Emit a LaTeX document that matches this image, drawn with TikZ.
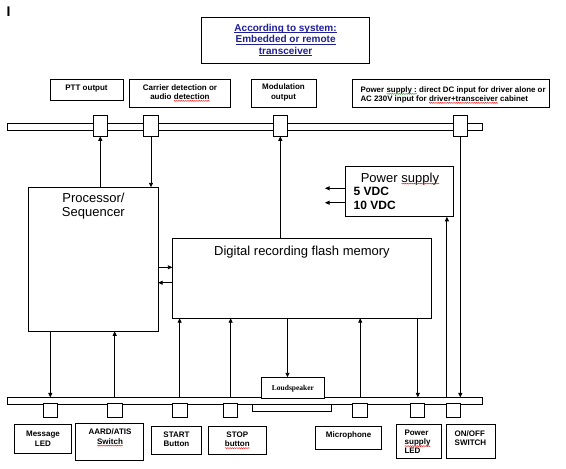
\documentclass[tikz,border=0pt]{standalone}
\usepackage{fontspec}
\setmainfont{Liberation Sans}
\newfontfamily\serifb{Liberation Serif}
\usetikzlibrary{arrows.meta,decorations.pathmorphing,fit}
\definecolor{titleblue}{RGB}{30,30,150}
\definecolor{squiggreen}{RGB}{40,150,40}
\newcommand\sqw[2][red]{\tikz[baseline=(w.base)]{\node[inner sep=0pt,outer sep=0pt] (w) {#2};\draw[#1,line width=0.35pt,decorate,decoration={snake,amplitude=0.5pt,segment length=1.8pt}] ([yshift=-1.6pt]w.base west) -- ([yshift=-1.6pt]w.base east);}}
\newcommand\ulne[1]{\tikz[baseline=(w.base)]{\node[inner sep=0pt,outer sep=0pt] (w) {#1};\draw[titleblue,line width=0.7pt] ([yshift=-1.5pt]w.base west) -- ([yshift=-1.5pt]w.base east);}}
\tikzset{
  bx/.style={draw, line width=0.9pt, fill=white, inner sep=0pt, outer sep=0pt},
  lab/.style={font=\fontsize{8}{9.3}\selectfont\bfseries, align=center, inner sep=0pt},
  labl/.style={font=\fontsize{8}{9}\selectfont\bfseries, align=left, inner sep=0pt},
  big/.style={font=\fontsize{13}{14.7}\selectfont, align=center, inner sep=0pt},
  arr/.style={line width=0.9pt, -{Triangle[length=4.5pt,width=4pt]}},
}
\begin{document}
\begin{tikzpicture}[x=1pt,y=-1pt]
\useasboundingbox (0,0) rectangle (566,469);
\fill[white] (0,0) rectangle (566,469);
\node[font=\fontsize{14}{14}\selectfont\bfseries, anchor=base west, inner sep=0pt] (imark) at (6.5,16.5) {I};
% title
\node[bx, fit={(201.6,17.3) (369.6,63.3)}] (title) {};
\node[font=\fontsize{10}{11.5}\selectfont\bfseries, text=titleblue, align=center, inner sep=0pt, anchor=base] (titletxt) at (285.6,54.3) {\ulne{According to system:}\\\ulne{Embedded or remote}\\\ulne{transceiver}};
% top labels
\node[bx, fit={(50,79.3) (123,100.7)}] (ptt) {};
\node[lab, anchor=base] (ptttxt) at (86.5,90.5) {PTT output};
\node[bx, fit={(129.3,79.3) (230.3,107.3)}] (car) {};
\node[lab, anchor=base] (cartxt) at (180,99.3) {Carrier detection or\\audio \sqw{detection}};
\node[bx, fit={(251.7,79.3) (316,107.3)}] (mod) {};
\node[lab, anchor=base] (modtxt) at (283.5,99) {Modulation\\output};
\node[bx, fit={(352,79.7) (549,107.3)}] (psin) {};
\node[labl, font=\fontsize{7.9}{9}\selectfont\bfseries, anchor=base west] (psintxt) at (360.3,101.3) {Power \sqw[squiggreen]{supply :} direct DC input for driver alone or\\AC 230V input for \sqw{driver+transceiver} cabinet};
% top bar and connectors
\node[bx, fit={(7.3,123.3) (482.3,130.3)}] (tbar) {};
\node[bx, fit={(93.3,115.3) (107.3,136.3)}] (tc1) {};
\node[bx, fit={(143.3,115.3) (158.7,136.3)}] (tc2) {};
\node[bx, fit={(273.3,115.3) (287.3,136.3)}] (tc3) {};
\node[bx, fit={(453.3,115.3) (467.3,136.3)}] (tc4) {};
% processor
\node[bx, fit={(28.7,187.3) (158.2,331.3)}] (proc) {};
\node[big, anchor=base] (proctxt) at (93.4,216.7) {Processor/\\Sequencer};
% power supply
\node[bx, fit={(345.3,166.7) (453.3,216.8)}] (ps) {};
\node[big, anchor=base] (pstxt) at (400,182) {Power \sqw{supply}};
\node[font=\fontsize{12}{14}\selectfont\bfseries, anchor=base west, inner sep=0pt] (v5txt) at (353.5,195) {5 VDC};
\node[font=\fontsize{12}{14}\selectfont\bfseries, anchor=base west, inner sep=0pt] (v10txt) at (353.5,209.3) {10 VDC};
% digital memory
\node[bx, fit={(172.3,238.3) (431.5,318.2)}] (dig) {};
\node[big, anchor=base] (digtxt) at (302,255.3) {Digital recording flash memory};
% bottom bar
\node[bx, fit={(7.2,397.4) (482.3,404.2)}] (bbar) {};
\node[bx, fit={(252.5,404.3) (331.6,411)}] (lsr) {};
\node[bx, fit={(261.6,377.3) (324.4,398.3)}] (ls) {};
\node[font=\fontsize{7.5}{9}\selectfont\serifb\bfseries, anchor=base, inner sep=0pt] (lstxt) at (293,390) {Loudspeaker};
\node[bx, fit={(43.3,403.7) (57.3,417.3)}] (bc1) {};
\node[bx, fit={(107.3,403.7) (122,417.3)}] (bc2) {};
\node[bx, fit={(172.3,403.7) (187,417.3)}] (bc3) {};
\node[bx, fit={(223.6,403.7) (237.7,417.3)}] (bc4) {};
\node[bx, fit={(352.6,403.7) (367.8,417.3)}] (bc5) {};
\node[bx, fit={(410.8,403.7) (424.9,417.3)}] (bc6) {};
\node[bx, fit={(446.9,403.7) (460.6,417.3)}] (bc7) {};
% bottom labels
\node[bx, fit={(14.5,424.3) (71.5,453.3)}] (msg) {};
\node[lab, anchor=base] (msgtxt) at (43,446.2) {Message\\LED};
\node[bx, fit={(75.5,423.3) (143.4,460.3)}] (aard) {};
\node[lab, anchor=base] (aardtxt) at (110,444) {AARD/ATIS\\\sqw{Switch}};
\node[bx, fit={(151.4,426.3) (201.6,454.3)}] (start) {};
\node[lab, anchor=base] (starttxt) at (176.5,446.5) {START\\Button};
\node[bx, fit={(208.5,426.3) (266.6,454.3)}] (stop) {};
\node[lab, anchor=base] (stoptxt) at (237.3,446.5) {STOP\\\sqw{button}};
\node[bx, fit={(315.8,426.3) (381.5,449.3)}] (mic) {};
\node[lab, anchor=base] (mictxt) at (348.6,437.7) {Microphone};
\node[bx, fit={(396.7,424.3) (441.5,458.3)}] (psled) {};
\node[labl, anchor=base west] (psledtxt) at (404.3,453.5) {Power\\\sqw{supply}\\LED};
\node[bx, fit={(446.9,424.3) (495.7,458.3)}] (onoff) {};
\node[labl, anchor=base west] (onofftxt) at (454.5,445.5) {ON/OFF\\SWITCH};
% connectors top
\draw[arr] (tc1.south |- proc.north) -- (tc1.south);
\draw[arr] (tc2.south) -- (tc2.south |- proc.north);
\draw[arr] (tc3.south |- dig.north) -- (tc3.south);
\draw[arr] (tc4.south) -- (tc4.south |- bbar.north);
% power supply outputs
\coordinate (v5) at (325,188.3);
\coordinate (v10) at (325,202.7);
\draw[arr] (ps.west |- v5) -- (v5);
\draw[arr] (ps.west |- v10) -- (v10);
\draw[arr] (bbar.north -| bc7.north west) -- (ps.south -| bc7.north west);
% processor <-> memory
\coordinate (pd1) at (0,267.3);
\coordinate (pd2) at (0,282.7);
\draw[arr] (proc.east |- pd1) -- (dig.west |- pd1);
\draw[arr] (dig.west |- pd2) -- (proc.east |- pd2);
% bottom connectors
\draw[arr] (bc1.north |- proc.south) -- (bc1.north |- bbar.north);
\draw[arr] (bc2.north |- bbar.north) -- (bc2.north |- proc.south);
\draw[arr] (bc3.north |- bbar.north) -- (bc3.north |- dig.south);
\draw[arr] (bc4.north |- bbar.north) -- (bc4.north |- dig.south);
\coordinate (lsin) at ([xshift=-5.5pt]ls.north);
\draw[arr] (lsin |- dig.south) -- (lsin);
\draw[arr] (bc5.north |- bbar.north) -- (bc5.north |- dig.south);
\draw[arr] (bc6.north |- dig.south) -- (bc6.north |- bbar.north);
\end{tikzpicture}
\end{document}
